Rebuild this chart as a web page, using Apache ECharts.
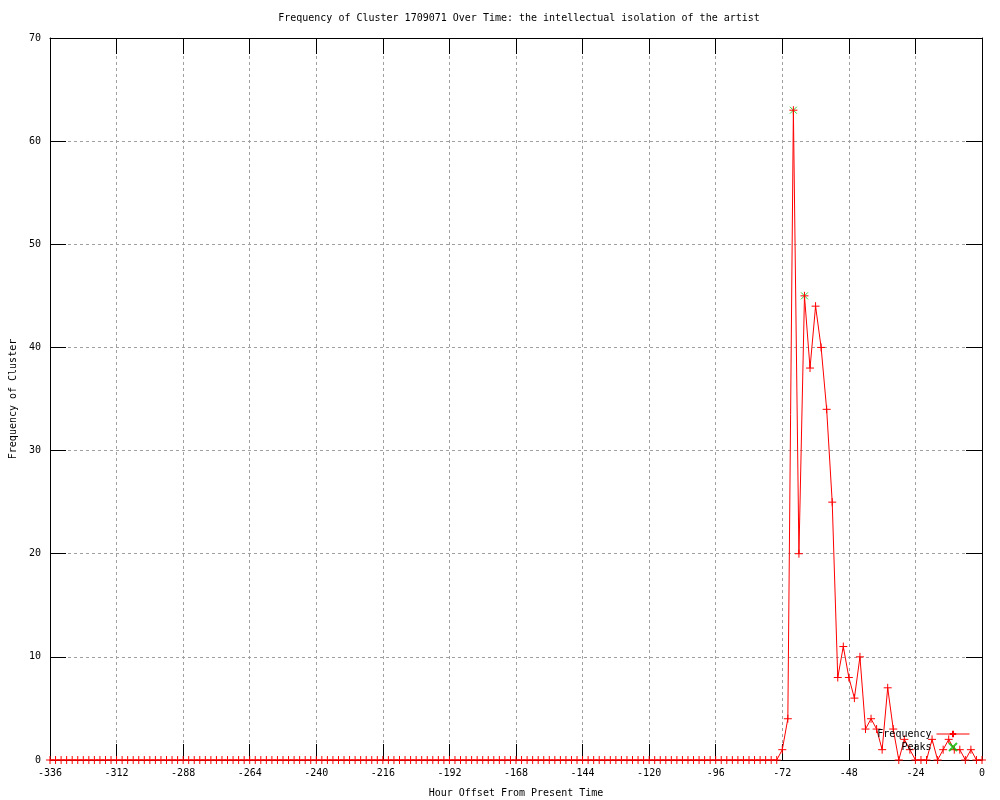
<!DOCTYPE html>
<html>
<head>
<meta charset="utf-8">
<script src="https://cdn.jsdelivr.net/npm/echarts@6/dist/echarts.min.js"></script>
<style>html,body{margin:0;padding:0;background:#fff}#c{width:1000px;height:800px}</style>
</head>
<body>
<div id="c"></div>
<script>
const titleText = 'Frequency of Cluster 1709071 Over Time: the intellectual isolation of the artist';
const xName = 'Hour Offset From Present Time';
const yName = 'Frequency of Cluster';
const hours = [
-336,-334,-332,-330,-328,-326,-324,-322,-320,-318,-316,-314,
-312,-310,-308,-306,-304,-302,-300,-298,-296,-294,-292,-290,
-288,-286,-284,-282,-280,-278,-276,-274,-272,-270,-268,-266,
-264,-262,-260,-258,-256,-254,-252,-250,-248,-246,-244,-242,
-240,-238,-236,-234,-232,-230,-228,-226,-224,-222,-220,-218,
-216,-214,-212,-210,-208,-206,-204,-202,-200,-198,-196,-194,
-192,-190,-188,-186,-184,-182,-180,-178,-176,-174,-172,-170,
-168,-166,-164,-162,-160,-158,-156,-154,-152,-150,-148,-146,
-144,-142,-140,-138,-136,-134,-132,-130,-128,-126,-124,-122,
-120,-118,-116,-114,-112,-110,-108,-106,-104,-102,-100,-98,
-96,-94,-92,-90,-88,-86,-84,-82,-80,-78,-76,-74,
-72,-70,-68,-66,-64,-62,-60,-58,-56,-54,-52,-50,
-48,-46,-44,-42,-40,-38,-36,-34,-32,-30,-28,-26,
-24,-22,-20,-18,-16,-14,-12,-10,-8,-6,-4,-2,0
];
const frequency = [
0,0,0,0,0,0,0,0,0,0,0,0,
0,0,0,0,0,0,0,0,0,0,0,0,
0,0,0,0,0,0,0,0,0,0,0,0,
0,0,0,0,0,0,0,0,0,0,0,0,
0,0,0,0,0,0,0,0,0,0,0,0,
0,0,0,0,0,0,0,0,0,0,0,0,
0,0,0,0,0,0,0,0,0,0,0,0,
0,0,0,0,0,0,0,0,0,0,0,0,
0,0,0,0,0,0,0,0,0,0,0,0,
0,0,0,0,0,0,0,0,0,0,0,0,
0,0,0,0,0,0,0,0,0,0,0,0,
1,4,63,20,45,38,44,40,34,25,8,11,
8,6,10,3,4,3,1,7,3,0,2,1,
0,0,0,2,0,1,2,1,1,0,1,0,0
];
const peakHours = [-68, -64];
const peakValues = [63, 45];
const xTicks = [-336,-312,-288,-264,-240,-216,-192,-168,-144,-120,-96,-72,-48,-24,0];
const yTicks = [0,10,20,30,40,50,60,70];

const FONT = 'DejaVu Sans Mono';
const freqData = hours.map((h, i) => [h, frequency[i]]);
const peakData = peakHours.map((h, i) => [h, peakValues[i]]);
const plus = 'path://M0,4L8,4M4,0L4,8';
const cross = 'path://M0,0L8,8M8,0L0,8';

const chart = echarts.init(document.getElementById('c'), null, {renderer: 'canvas'});
const baseX = {
  type: 'value', min: xTicks[0], max: xTicks[xTicks.length - 1], interval: 24,
  axisLine: {show: true, onZero: false, lineStyle: {color: '#000', width: 1}},
  axisTick: {show: true, inside: true, length: 16, lineStyle: {color: '#000'}},
};
const baseY = {
  type: 'value', min: yTicks[0], max: yTicks[yTicks.length - 1], interval: 10,
  axisLine: {show: true, onZero: false, lineStyle: {color: '#000', width: 1}},
  axisTick: {show: true, inside: true, length: 16, lineStyle: {color: '#000'}},
};
chart.setOption({
  animation: false,
  backgroundColor: '#fff',
  title: {
    text: titleText, left: 514, top: 8, textAlign: 'center',
    textStyle: {fontFamily: FONT, fontSize: 10, fontWeight: 'normal', color: '#000'}
  },
  grid: {left: 50, right: 18, top: 38, bottom: 40, outerBoundsMode: 'none', containLabel: false},
  legend: {
    orient: 'vertical', align: 'right', right: 30, top: 728, padding: 0,
    itemWidth: 33, itemHeight: 8, itemGap: 1,
    lineStyle: {width: 1},
    textStyle: {fontFamily: FONT, fontSize: 10, color: '#000', lineHeight: 12},
    data: ['Frequency', 'Peaks']
  },
  xAxis: [
    Object.assign({}, baseX, {
      position: 'bottom', name: xName, nameLocation: 'middle', nameGap: 28,
      nameTextStyle: {fontFamily: FONT, fontSize: 10, color: '#000'},
      axisLabel: {fontFamily: FONT, fontSize: 10, color: '#000', margin: 8},
      splitLine: {show: true, lineStyle: {color: '#a0a0a0', type: [3, 3], width: 1}}
    }),
    Object.assign({}, baseX, {position: 'top', axisLabel: {show: false}, splitLine: {show: false}})
  ],
  yAxis: [
    Object.assign({}, baseY, {
      position: 'left', name: yName, nameLocation: 'middle', nameGap: 32, nameRotate: 90,
      nameTextStyle: {fontFamily: FONT, fontSize: 10, color: '#000'},
      axisLabel: {fontFamily: FONT, fontSize: 10, color: '#000', margin: 9},
      splitLine: {show: true, lineStyle: {color: '#a0a0a0', type: [3, 3], width: 1}}
    }),
    Object.assign({}, baseY, {position: 'right', axisLabel: {show: false}, splitLine: {show: false}})
  ],
  series: [
    {
      name: 'Frequency', type: 'line', data: freqData,
      xAxisIndex: 0, yAxisIndex: 0,
      showSymbol: true, showAllSymbol: true, symbol: plus, symbolSize: 8,
      clip: false,
      lineStyle: {color: '#ff0000', width: 1},
      itemStyle: {color: 'rgba(0,0,0,0)', borderColor: '#ff0000', borderWidth: 1},
      emphasis: {disabled: true}
    },
    {
      name: 'Peaks', type: 'scatter', data: peakData,
      xAxisIndex: 0, yAxisIndex: 0,
      symbol: cross, symbolSize: 7, clip: false,
      itemStyle: {color: 'rgba(0,0,0,0)', borderColor: '#00c000', borderWidth: 1},
      emphasis: {disabled: true}
    }
  ]
});
</script>
</body>
</html>
